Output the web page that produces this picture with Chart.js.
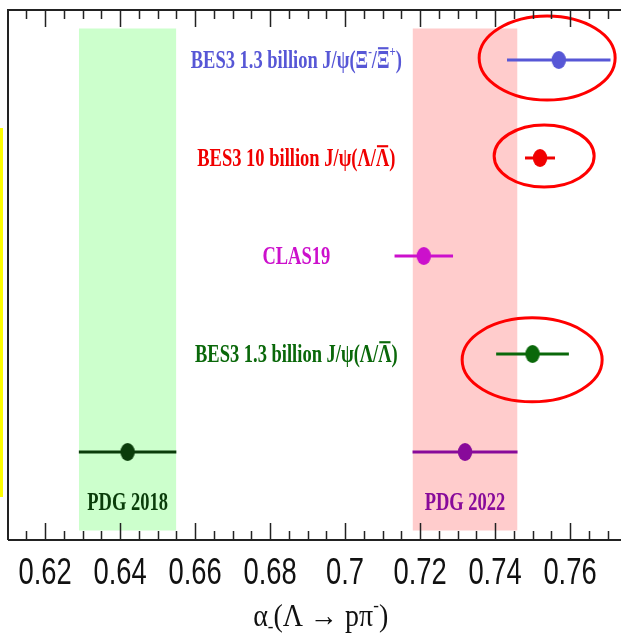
<!DOCTYPE html>
<html>
<head>
<meta charset="utf-8">
<script src="https://cdn.jsdelivr.net/npm/chart.js@4.4.0/dist/chart.umd.min.js"></script>
<style>
  html, body { margin: 0; padding: 0; background: #fff; }
  #wrap { position: relative; width: 621px; height: 634px; }
  #yellow { position: absolute; left: 0; top: 128px; width: 3px; height: 369px; background: #ffff00; }
</style>
</head>
<body>
<div id="wrap">
  <canvas id="c" width="621" height="634"></canvas>
  <div id="yellow"></div>
</div>
<script>
/* ---------- data ---------- */
// measurements, top row first
const names   = ['BES3 Xi 1.3B', 'BES3 10B', 'CLAS19', 'BES3 1.3B', 'PDG 2018', 'PDG 2022'];
const values  = [0.757, 0.752, 0.721, 0.750, 0.642, 0.732];
const errors  = [0.0138, 0.0040, 0.0078, 0.0097, 0.013, 0.014];
const rows    = [5, 4, 3, 2, 1, 1];
const colors  = ['#5757d6', '#f00000', '#cc10cc', '#0a680a', '#0a3c0a', '#880a9a'];

// label text (segments: [text, kind]) and where it sits
const labelSegs = [
  [['BES3 1.3 billion J/ψ(Ξ'], ['-', 'sup'], ['/'], ['Ξ', 'bar'], ['+', 'sup'], [')']],
  [['BES3 10 billion J/ψ(Λ/'], ['Λ', 'bar'], [')']],
  [['CLAS19']],
  [['BES3 1.3 billion J/ψ(Λ/'], ['Λ', 'bar'], [')']],
  [['PDG 2018']],
  [['PDG 2022']]
];
const labelX  = [0.687, 0.687, 0.687, 0.687, 0.642, 0.732];
const labelY  = [5, 4, 3, 2, 0.49, 0.49];

// PDG bands
const bandLo    = [0.629, 0.718];
const bandHi    = [0.655, 0.746];
const bandColor = ['#ccffcc', '#ffcccc'];
const bandTop   = 5.32;
const bandBot   = 0.2;

// red highlight ellipses
const hlX  = [0.7539, 0.7531, 0.7499];
const hlY  = [5.02, 4.02, 1.94];
const hlRx = [68, 50, 70];
const hlRy = [42, 31, 42];

// axis
const tickValues = [0.62, 0.64, 0.66, 0.68, 0.70, 0.72, 0.74, 0.76];
const axisTitle  = [['α'], ['-', 'sub'], ['(Λ → pπ'], ['-', 'sup'], [')']];
const xMin = 0.6101, xMax = 0.7736;
const yMin = 0.102, yMax = 5.51;

/* ---------- marker (slightly tall ellipse, like the original) ---------- */
function markerFor(color) {
  const c = document.createElement('canvas');
  c.width = 16; c.height = 20;
  const g = c.getContext('2d');
  g.fillStyle = color;
  g.beginPath();
  g.ellipse(8, 10, 7.2, 9, 0, 0, Math.PI * 2);
  g.fill();
  return c;
}

/* ---------- datasets ---------- */
const datasets = [];
values.forEach((v, i) => {
  datasets.push({
    data: [{ x: v, y: rows[i] }],
    pointStyle: markerFor(colors[i]), pointRadius: 8,
    backgroundColor: colors[i], borderColor: colors[i],
    order: 1
  });
  datasets.push({
    data: [{ x: v - errors[i], y: rows[i] }, { x: v + errors[i], y: rows[i] }],
    showLine: true, borderColor: colors[i], borderWidth: 3, pointRadius: 0,
    order: 2
  });
});
bandLo.forEach((lo, i) => {
  datasets.push({
    data: [{ x: lo, y: bandTop }, { x: bandHi[i], y: bandTop }],
    showLine: true, borderWidth: 0, pointRadius: 0,
    fill: '+1', backgroundColor: bandColor[i], borderColor: 'rgba(0,0,0,0)',
    order: 10
  });
  datasets.push({
    data: [{ x: lo, y: bandBot }, { x: bandHi[i], y: bandBot }],
    showLine: true, borderWidth: 0, pointRadius: 0, borderColor: 'rgba(0,0,0,0)',
    order: 11
  });
});

/* ---------- plugins ---------- */
const SERIF = '"Liberation Serif", "Times New Roman", serif';
const SANS  = '"Liberation Sans", Arial, sans-serif';

// rich text: segments may be superscript, subscript or overlined
function drawRich(ctx, segs, cx, cy, color, size, weight, sx, sy) {
  const base  = `${weight} ${size}px ${SERIF}`;
  const small = `${weight} ${Math.round(size * 0.62)}px ${SERIF}`;
  let w = 0;
  segs.forEach(s => { ctx.font = s[1] === 'sup' || s[1] === 'sub' ? small : base; w += ctx.measureText(s[0]).width; });
  ctx.save();
  ctx.translate(cx - w * sx / 2, cy);
  ctx.scale(sx, sy);
  ctx.fillStyle = color; ctx.strokeStyle = color;
  ctx.textBaseline = 'alphabetic'; ctx.textAlign = 'left';
  const baseY = size * 0.33;
  let x = 0;
  segs.forEach(s => {
    const isSmall = s[1] === 'sup' || s[1] === 'sub';
    ctx.font = isSmall ? small : base;
    const sw = ctx.measureText(s[0]).width;
    let y = baseY;
    if (s[1] === 'sup') y = baseY - size * 0.5;
    if (s[1] === 'sub') y = baseY + size * 0.18;
    ctx.fillText(s[0], x, y);
    if (s[1] === 'bar') {
      ctx.lineWidth = 1.6;
      ctx.beginPath();
      ctx.moveTo(x + 1, baseY - size * 0.8);
      ctx.lineTo(x + sw - 1, baseY - size * 0.8);
      ctx.stroke();
    }
    x += sw;
  });
  ctx.restore();
}

const decor = {
  id: 'decor',
  afterDatasetsDraw(chart) {
    const { ctx, chartArea: a, scales: { x: xs, y: ys } } = chart;
    // labels
    labelSegs.forEach((segs, i) => {
      drawRich(ctx, segs, xs.getPixelForValue(labelX[i]), ys.getPixelForValue(labelY[i]), colors[i], 18.5, 'bold', 1, 1.35);
    });
    // highlight ellipses
    ctx.save();
    ctx.strokeStyle = '#ff0000'; ctx.lineWidth = 3;
    hlX.forEach((hx, i) => {
      ctx.beginPath();
      ctx.ellipse(xs.getPixelForValue(hx), ys.getPixelForValue(hlY[i]), hlRx[i], hlRy[i], 0, 0, Math.PI * 2);
      ctx.stroke();
    });
    ctx.restore();
    // frame + inward ticks
    ctx.save();
    ctx.strokeStyle = '#222'; ctx.lineWidth = 2;
    ctx.beginPath();
    ctx.moveTo(a.left, a.bottom); ctx.lineTo(a.left, a.top); ctx.lineTo(a.right, a.top);
    ctx.moveTo(a.left, a.bottom); ctx.lineTo(a.right, a.bottom);
    ctx.stroke();
    ctx.lineWidth = 1.5;
    ctx.beginPath();
    for (let k = 0; k * 0.005 + 0.61 <= xMax; k++) {
      const v = 0.61 + k * 0.005;
      const px = Math.round(xs.getPixelForValue(v)) + 0.5;
      if (px <= a.left + 1) continue;
      const len = (k % 4 === 2) ? 17 : 9;
      ctx.moveTo(px, a.bottom); ctx.lineTo(px, a.bottom - len);
      ctx.moveTo(px, a.top); ctx.lineTo(px, a.top + len);
    }
    ctx.stroke();
    // tick labels (condensed, tall)
    ctx.fillStyle = '#111';
    ctx.font = `36px ${SANS}`;
    ctx.textAlign = 'center'; ctx.textBaseline = 'middle';
    xs.ticks.forEach(t => {
      ctx.save();
      ctx.translate(xs.getPixelForValue(t.value), a.bottom + 34);
      ctx.scale(0.76, 1);
      ctx.fillText(String(t.value), 0, 0);
      ctx.restore();
    });
    ctx.restore();
    // axis title
    drawRich(ctx, axisTitle, xs.getPixelForValue(0.6935), a.bottom + 76, '#111', 28, 'normal', 1, 1.1);
  }
};

/* ---------- chart ---------- */
new Chart(document.getElementById('c'), {
  type: 'scatter',
  data: { datasets },
  options: {
    responsive: false,
    animation: false,
    layout: { autoPadding: false, padding: { left: 8, top: 10, right: 0, bottom: 0 } },
    plugins: { legend: { display: false }, tooltip: { enabled: false } },
    scales: {
      x: {
        type: 'linear', min: xMin, max: xMax,
        afterBuildTicks: ax => { ax.ticks = tickValues.map(v => ({ value: v })); },
        afterFit: ax => { ax.height = 94; ax.paddingLeft = 0; ax.paddingRight = 0; },
        grid: { display: false, drawTicks: false },
        border: { display: false },
        ticks: { display: false }
      },
      y: {
        type: 'linear', min: yMin, max: yMax, display: false
      }
    }
  },
  plugins: [decor]
});
</script>
</body>
</html>
